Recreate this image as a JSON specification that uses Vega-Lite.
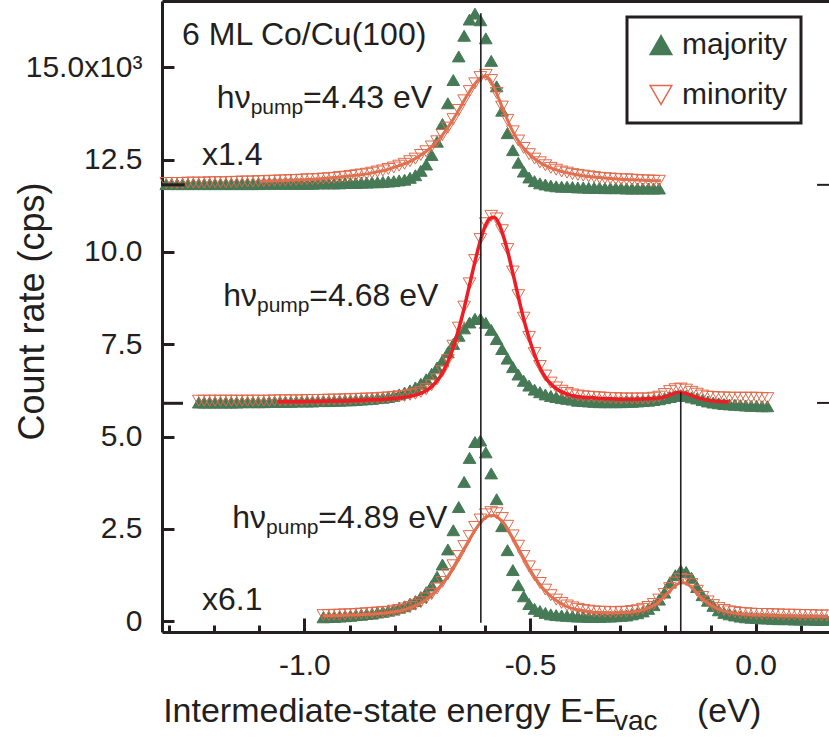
{
  "$schema": "https://vega.github.io/schema/vega-lite/v6.json",
  "width": 667,
  "height": 631,
  "autosize": "none",
  "padding": {"left": 162, "top": 1, "right": 0, "bottom": 106},
  "background": "white",
  "config": {
    "font": "Liberation Sans",
    "view": {"stroke": null},
    "axis": {
      "labelFont": "Liberation Sans", "titleFont": "Liberation Sans",
      "labelColor": "#231f20", "titleColor": "#231f20",
      "domainColor": "#231f20", "tickColor": "#231f20",
      "domainWidth": 3, "tickWidth": 3, "grid": false,
      "labelFontSize": 30, "titleFontWeight": "normal"
    },
    "legend": {"strokeWidth": 3}
  },
  "datasets": {
    "pts": [
      {"p":"t","s":"majority","e":-1.306,"y":11.84},{"p":"t","s":"majority","e":-1.294,"y":11.84},{"p":"t","s":"majority","e":-1.282,"y":11.84},{"p":"t","s":"majority","e":-1.270,"y":11.84},{"p":"t","s":"majority","e":-1.258,"y":11.84},{"p":"t","s":"majority","e":-1.246,"y":11.84},{"p":"t","s":"majority","e":-1.234,"y":11.84},{"p":"t","s":"majority","e":-1.222,"y":11.84},{"p":"t","s":"majority","e":-1.210,"y":11.84},{"p":"t","s":"majority","e":-1.198,"y":11.84},{"p":"t","s":"majority","e":-1.186,"y":11.84},{"p":"t","s":"majority","e":-1.174,"y":11.84},{"p":"t","s":"majority","e":-1.162,"y":11.84},{"p":"t","s":"majority","e":-1.150,"y":11.84},{"p":"t","s":"majority","e":-1.138,"y":11.84},{"p":"t","s":"majority","e":-1.126,"y":11.84},{"p":"t","s":"majority","e":-1.114,"y":11.84},{"p":"t","s":"majority","e":-1.102,"y":11.84},{"p":"t","s":"majority","e":-1.090,"y":11.85},{"p":"t","s":"majority","e":-1.078,"y":11.85},{"p":"t","s":"majority","e":-1.066,"y":11.85},{"p":"t","s":"majority","e":-1.054,"y":11.85},{"p":"t","s":"majority","e":-1.042,"y":11.85},{"p":"t","s":"majority","e":-1.030,"y":11.85},{"p":"t","s":"majority","e":-1.018,"y":11.85},{"p":"t","s":"majority","e":-1.006,"y":11.85},{"p":"t","s":"majority","e":-0.994,"y":11.85},{"p":"t","s":"majority","e":-0.982,"y":11.85},{"p":"t","s":"majority","e":-0.970,"y":11.86},{"p":"t","s":"majority","e":-0.958,"y":11.86},{"p":"t","s":"majority","e":-0.946,"y":11.86},{"p":"t","s":"majority","e":-0.934,"y":11.86},{"p":"t","s":"majority","e":-0.922,"y":11.86},{"p":"t","s":"majority","e":-0.910,"y":11.87},{"p":"t","s":"majority","e":-0.898,"y":11.87},{"p":"t","s":"majority","e":-0.886,"y":11.87},{"p":"t","s":"majority","e":-0.874,"y":11.88},{"p":"t","s":"majority","e":-0.862,"y":11.88},{"p":"t","s":"majority","e":-0.850,"y":11.89},{"p":"t","s":"majority","e":-0.838,"y":11.89},{"p":"t","s":"majority","e":-0.826,"y":11.90},{"p":"t","s":"majority","e":-0.814,"y":11.91},{"p":"t","s":"majority","e":-0.802,"y":11.92},{"p":"t","s":"majority","e":-0.790,"y":11.94},{"p":"t","s":"majority","e":-0.778,"y":11.96},{"p":"t","s":"majority","e":-0.766,"y":12.01},{"p":"t","s":"majority","e":-0.754,"y":12.08},{"p":"t","s":"majority","e":-0.742,"y":12.20},{"p":"t","s":"majority","e":-0.730,"y":12.37},{"p":"t","s":"majority","e":-0.718,"y":12.63},{"p":"t","s":"majority","e":-0.706,"y":12.99},{"p":"t","s":"majority","e":-0.694,"y":13.47},{"p":"t","s":"majority","e":-0.682,"y":14.03},{"p":"t","s":"majority","e":-0.670,"y":14.66},{"p":"t","s":"majority","e":-0.658,"y":15.30},{"p":"t","s":"majority","e":-0.646,"y":15.86},{"p":"t","s":"majority","e":-0.634,"y":16.30},{"p":"t","s":"majority","e":-0.622,"y":16.46},{"p":"t","s":"majority","e":-0.610,"y":16.28},{"p":"t","s":"majority","e":-0.598,"y":15.79},{"p":"t","s":"majority","e":-0.586,"y":15.18},{"p":"t","s":"majority","e":-0.574,"y":14.49},{"p":"t","s":"majority","e":-0.562,"y":13.83},{"p":"t","s":"majority","e":-0.550,"y":13.22},{"p":"t","s":"majority","e":-0.538,"y":12.76},{"p":"t","s":"majority","e":-0.526,"y":12.42},{"p":"t","s":"majority","e":-0.514,"y":12.18},{"p":"t","s":"majority","e":-0.502,"y":12.02},{"p":"t","s":"majority","e":-0.490,"y":11.92},{"p":"t","s":"majority","e":-0.478,"y":11.86},{"p":"t","s":"majority","e":-0.466,"y":11.83},{"p":"t","s":"majority","e":-0.454,"y":11.80},{"p":"t","s":"majority","e":-0.442,"y":11.78},{"p":"t","s":"majority","e":-0.430,"y":11.77},{"p":"t","s":"majority","e":-0.418,"y":11.77},{"p":"t","s":"majority","e":-0.406,"y":11.76},{"p":"t","s":"majority","e":-0.394,"y":11.75},{"p":"t","s":"majority","e":-0.382,"y":11.75},{"p":"t","s":"majority","e":-0.370,"y":11.74},{"p":"t","s":"majority","e":-0.358,"y":11.74},{"p":"t","s":"majority","e":-0.346,"y":11.74},{"p":"t","s":"majority","e":-0.334,"y":11.73},{"p":"t","s":"majority","e":-0.322,"y":11.73},{"p":"t","s":"majority","e":-0.310,"y":11.73},{"p":"t","s":"majority","e":-0.298,"y":11.73},{"p":"t","s":"majority","e":-0.286,"y":11.72},{"p":"t","s":"majority","e":-0.274,"y":11.72},{"p":"t","s":"majority","e":-0.262,"y":11.72},{"p":"t","s":"majority","e":-0.250,"y":11.72},{"p":"t","s":"majority","e":-0.238,"y":11.72},{"p":"t","s":"majority","e":-0.226,"y":11.72},{"p":"t","s":"majority","e":-0.214,"y":11.72},
      {"p":"m","s":"majority","e":-1.234,"y":5.92},{"p":"m","s":"majority","e":-1.222,"y":5.92},{"p":"m","s":"majority","e":-1.210,"y":5.92},{"p":"m","s":"majority","e":-1.198,"y":5.92},{"p":"m","s":"majority","e":-1.186,"y":5.92},{"p":"m","s":"majority","e":-1.174,"y":5.92},{"p":"m","s":"majority","e":-1.162,"y":5.92},{"p":"m","s":"majority","e":-1.150,"y":5.92},{"p":"m","s":"majority","e":-1.138,"y":5.93},{"p":"m","s":"majority","e":-1.126,"y":5.93},{"p":"m","s":"majority","e":-1.114,"y":5.93},{"p":"m","s":"majority","e":-1.102,"y":5.93},{"p":"m","s":"majority","e":-1.090,"y":5.93},{"p":"m","s":"majority","e":-1.078,"y":5.94},{"p":"m","s":"majority","e":-1.066,"y":5.94},{"p":"m","s":"majority","e":-1.054,"y":5.94},{"p":"m","s":"majority","e":-1.042,"y":5.94},{"p":"m","s":"majority","e":-1.030,"y":5.94},{"p":"m","s":"majority","e":-1.018,"y":5.95},{"p":"m","s":"majority","e":-1.006,"y":5.95},{"p":"m","s":"majority","e":-0.994,"y":5.95},{"p":"m","s":"majority","e":-0.982,"y":5.95},{"p":"m","s":"majority","e":-0.970,"y":5.96},{"p":"m","s":"majority","e":-0.958,"y":5.96},{"p":"m","s":"majority","e":-0.946,"y":5.96},{"p":"m","s":"majority","e":-0.934,"y":5.97},{"p":"m","s":"majority","e":-0.922,"y":5.97},{"p":"m","s":"majority","e":-0.910,"y":5.98},{"p":"m","s":"majority","e":-0.898,"y":5.98},{"p":"m","s":"majority","e":-0.886,"y":5.99},{"p":"m","s":"majority","e":-0.874,"y":6.00},{"p":"m","s":"majority","e":-0.862,"y":6.01},{"p":"m","s":"majority","e":-0.850,"y":6.02},{"p":"m","s":"majority","e":-0.838,"y":6.04},{"p":"m","s":"majority","e":-0.826,"y":6.05},{"p":"m","s":"majority","e":-0.814,"y":6.07},{"p":"m","s":"majority","e":-0.802,"y":6.10},{"p":"m","s":"majority","e":-0.790,"y":6.14},{"p":"m","s":"majority","e":-0.778,"y":6.19},{"p":"m","s":"majority","e":-0.766,"y":6.25},{"p":"m","s":"majority","e":-0.754,"y":6.33},{"p":"m","s":"majority","e":-0.742,"y":6.43},{"p":"m","s":"majority","e":-0.730,"y":6.55},{"p":"m","s":"majority","e":-0.718,"y":6.70},{"p":"m","s":"majority","e":-0.706,"y":6.87},{"p":"m","s":"majority","e":-0.694,"y":7.06},{"p":"m","s":"majority","e":-0.682,"y":7.28},{"p":"m","s":"majority","e":-0.670,"y":7.51},{"p":"m","s":"majority","e":-0.658,"y":7.73},{"p":"m","s":"majority","e":-0.646,"y":7.93},{"p":"m","s":"majority","e":-0.634,"y":8.09},{"p":"m","s":"majority","e":-0.622,"y":8.19},{"p":"m","s":"majority","e":-0.610,"y":8.19},{"p":"m","s":"majority","e":-0.598,"y":8.08},{"p":"m","s":"majority","e":-0.586,"y":7.89},{"p":"m","s":"majority","e":-0.574,"y":7.64},{"p":"m","s":"majority","e":-0.562,"y":7.37},{"p":"m","s":"majority","e":-0.550,"y":7.11},{"p":"m","s":"majority","e":-0.538,"y":6.88},{"p":"m","s":"majority","e":-0.526,"y":6.68},{"p":"m","s":"majority","e":-0.514,"y":6.51},{"p":"m","s":"majority","e":-0.502,"y":6.38},{"p":"m","s":"majority","e":-0.490,"y":6.27},{"p":"m","s":"majority","e":-0.478,"y":6.20},{"p":"m","s":"majority","e":-0.466,"y":6.14},{"p":"m","s":"majority","e":-0.454,"y":6.10},{"p":"m","s":"majority","e":-0.442,"y":6.07},{"p":"m","s":"majority","e":-0.430,"y":6.04},{"p":"m","s":"majority","e":-0.418,"y":6.02},{"p":"m","s":"majority","e":-0.406,"y":6.00},{"p":"m","s":"majority","e":-0.394,"y":5.97},{"p":"m","s":"majority","e":-0.382,"y":5.96},{"p":"m","s":"majority","e":-0.370,"y":5.95},{"p":"m","s":"majority","e":-0.358,"y":5.94},{"p":"m","s":"majority","e":-0.346,"y":5.93},{"p":"m","s":"majority","e":-0.334,"y":5.93},{"p":"m","s":"majority","e":-0.322,"y":5.93},{"p":"m","s":"majority","e":-0.310,"y":5.93},{"p":"m","s":"majority","e":-0.298,"y":5.93},{"p":"m","s":"majority","e":-0.286,"y":5.94},{"p":"m","s":"majority","e":-0.274,"y":5.94},{"p":"m","s":"majority","e":-0.262,"y":5.95},{"p":"m","s":"majority","e":-0.250,"y":5.96},{"p":"m","s":"majority","e":-0.238,"y":5.97},{"p":"m","s":"majority","e":-0.226,"y":5.99},{"p":"m","s":"majority","e":-0.214,"y":6.01},{"p":"m","s":"majority","e":-0.202,"y":6.04},{"p":"m","s":"majority","e":-0.190,"y":6.07},{"p":"m","s":"majority","e":-0.178,"y":6.10},{"p":"m","s":"majority","e":-0.166,"y":6.12},{"p":"m","s":"majority","e":-0.154,"y":6.10},{"p":"m","s":"majority","e":-0.142,"y":6.06},{"p":"m","s":"majority","e":-0.130,"y":6.03},{"p":"m","s":"majority","e":-0.118,"y":5.99},{"p":"m","s":"majority","e":-0.106,"y":5.95},{"p":"m","s":"majority","e":-0.094,"y":5.92},{"p":"m","s":"majority","e":-0.082,"y":5.90},{"p":"m","s":"majority","e":-0.070,"y":5.88},{"p":"m","s":"majority","e":-0.058,"y":5.87},{"p":"m","s":"majority","e":-0.046,"y":5.86},{"p":"m","s":"majority","e":-0.034,"y":5.85},{"p":"m","s":"majority","e":-0.022,"y":5.84},{"p":"m","s":"majority","e":-0.010,"y":5.83},{"p":"m","s":"majority","e":0.002,"y":5.83},{"p":"m","s":"majority","e":0.014,"y":5.82},{"p":"m","s":"majority","e":0.026,"y":5.82},
      {"p":"b","s":"majority","e":-0.958,"y":0.10},{"p":"b","s":"majority","e":-0.946,"y":0.11},{"p":"b","s":"majority","e":-0.934,"y":0.11},{"p":"b","s":"majority","e":-0.922,"y":0.12},{"p":"b","s":"majority","e":-0.910,"y":0.13},{"p":"b","s":"majority","e":-0.898,"y":0.14},{"p":"b","s":"majority","e":-0.886,"y":0.16},{"p":"b","s":"majority","e":-0.874,"y":0.17},{"p":"b","s":"majority","e":-0.862,"y":0.19},{"p":"b","s":"majority","e":-0.850,"y":0.20},{"p":"b","s":"majority","e":-0.838,"y":0.23},{"p":"b","s":"majority","e":-0.826,"y":0.25},{"p":"b","s":"majority","e":-0.814,"y":0.28},{"p":"b","s":"majority","e":-0.802,"y":0.31},{"p":"b","s":"majority","e":-0.790,"y":0.36},{"p":"b","s":"majority","e":-0.778,"y":0.40},{"p":"b","s":"majority","e":-0.766,"y":0.47},{"p":"b","s":"majority","e":-0.754,"y":0.54},{"p":"b","s":"majority","e":-0.742,"y":0.65},{"p":"b","s":"majority","e":-0.730,"y":0.78},{"p":"b","s":"majority","e":-0.718,"y":0.96},{"p":"b","s":"majority","e":-0.706,"y":1.20},{"p":"b","s":"majority","e":-0.694,"y":1.53},{"p":"b","s":"majority","e":-0.682,"y":1.94},{"p":"b","s":"majority","e":-0.670,"y":2.46},{"p":"b","s":"majority","e":-0.658,"y":3.09},{"p":"b","s":"majority","e":-0.646,"y":3.77},{"p":"b","s":"majority","e":-0.634,"y":4.42},{"p":"b","s":"majority","e":-0.622,"y":4.85},{"p":"b","s":"majority","e":-0.610,"y":4.89},{"p":"b","s":"majority","e":-0.598,"y":4.57},{"p":"b","s":"majority","e":-0.586,"y":4.00},{"p":"b","s":"majority","e":-0.574,"y":3.30},{"p":"b","s":"majority","e":-0.562,"y":2.57},{"p":"b","s":"majority","e":-0.550,"y":1.92},{"p":"b","s":"majority","e":-0.538,"y":1.38},{"p":"b","s":"majority","e":-0.526,"y":0.97},{"p":"b","s":"majority","e":-0.514,"y":0.67},{"p":"b","s":"majority","e":-0.502,"y":0.46},{"p":"b","s":"majority","e":-0.490,"y":0.33},{"p":"b","s":"majority","e":-0.478,"y":0.27},{"p":"b","s":"majority","e":-0.466,"y":0.22},{"p":"b","s":"majority","e":-0.454,"y":0.18},{"p":"b","s":"majority","e":-0.442,"y":0.16},{"p":"b","s":"majority","e":-0.430,"y":0.15},{"p":"b","s":"majority","e":-0.418,"y":0.14},{"p":"b","s":"majority","e":-0.406,"y":0.13},{"p":"b","s":"majority","e":-0.394,"y":0.12},{"p":"b","s":"majority","e":-0.382,"y":0.12},{"p":"b","s":"majority","e":-0.370,"y":0.11},{"p":"b","s":"majority","e":-0.358,"y":0.11},{"p":"b","s":"majority","e":-0.346,"y":0.11},{"p":"b","s":"majority","e":-0.334,"y":0.12},{"p":"b","s":"majority","e":-0.322,"y":0.12},{"p":"b","s":"majority","e":-0.310,"y":0.13},{"p":"b","s":"majority","e":-0.298,"y":0.14},{"p":"b","s":"majority","e":-0.286,"y":0.15},{"p":"b","s":"majority","e":-0.274,"y":0.18},{"p":"b","s":"majority","e":-0.262,"y":0.21},{"p":"b","s":"majority","e":-0.250,"y":0.26},{"p":"b","s":"majority","e":-0.238,"y":0.33},{"p":"b","s":"majority","e":-0.226,"y":0.43},{"p":"b","s":"majority","e":-0.214,"y":0.58},{"p":"b","s":"majority","e":-0.202,"y":0.77},{"p":"b","s":"majority","e":-0.190,"y":1.04},{"p":"b","s":"majority","e":-0.178,"y":1.24},{"p":"b","s":"majority","e":-0.166,"y":1.37},{"p":"b","s":"majority","e":-0.154,"y":1.33},{"p":"b","s":"majority","e":-0.142,"y":1.17},{"p":"b","s":"majority","e":-0.130,"y":0.92},{"p":"b","s":"majority","e":-0.118,"y":0.70},{"p":"b","s":"majority","e":-0.106,"y":0.55},{"p":"b","s":"majority","e":-0.094,"y":0.41},{"p":"b","s":"majority","e":-0.082,"y":0.29},{"p":"b","s":"majority","e":-0.070,"y":0.22},{"p":"b","s":"majority","e":-0.058,"y":0.18},{"p":"b","s":"majority","e":-0.046,"y":0.15},{"p":"b","s":"majority","e":-0.034,"y":0.12},{"p":"b","s":"majority","e":-0.022,"y":0.10},{"p":"b","s":"majority","e":-0.010,"y":0.09},{"p":"b","s":"majority","e":0.002,"y":0.08},{"p":"b","s":"majority","e":0.014,"y":0.07},{"p":"b","s":"majority","e":0.026,"y":0.07},{"p":"b","s":"majority","e":0.038,"y":0.06},{"p":"b","s":"majority","e":0.050,"y":0.05},{"p":"b","s":"majority","e":0.062,"y":0.05},{"p":"b","s":"majority","e":0.074,"y":0.05},{"p":"b","s":"majority","e":0.086,"y":0.04},{"p":"b","s":"majority","e":0.098,"y":0.04},{"p":"b","s":"majority","e":0.110,"y":0.04},{"p":"b","s":"majority","e":0.122,"y":0.04},{"p":"b","s":"majority","e":0.134,"y":0.03},{"p":"b","s":"majority","e":0.146,"y":0.03},{"p":"b","s":"majority","e":0.158,"y":0.03},
      {"p":"t","s":"minority","e":-1.306,"y":11.87},{"p":"t","s":"minority","e":-1.294,"y":11.87},{"p":"t","s":"minority","e":-1.282,"y":11.87},{"p":"t","s":"minority","e":-1.270,"y":11.87},{"p":"t","s":"minority","e":-1.258,"y":11.88},{"p":"t","s":"minority","e":-1.246,"y":11.88},{"p":"t","s":"minority","e":-1.234,"y":11.88},{"p":"t","s":"minority","e":-1.222,"y":11.88},{"p":"t","s":"minority","e":-1.210,"y":11.89},{"p":"t","s":"minority","e":-1.198,"y":11.89},{"p":"t","s":"minority","e":-1.186,"y":11.89},{"p":"t","s":"minority","e":-1.174,"y":11.89},{"p":"t","s":"minority","e":-1.162,"y":11.90},{"p":"t","s":"minority","e":-1.150,"y":11.90},{"p":"t","s":"minority","e":-1.138,"y":11.91},{"p":"t","s":"minority","e":-1.126,"y":11.91},{"p":"t","s":"minority","e":-1.114,"y":11.91},{"p":"t","s":"minority","e":-1.102,"y":11.92},{"p":"t","s":"minority","e":-1.090,"y":11.92},{"p":"t","s":"minority","e":-1.078,"y":11.93},{"p":"t","s":"minority","e":-1.066,"y":11.93},{"p":"t","s":"minority","e":-1.054,"y":11.94},{"p":"t","s":"minority","e":-1.042,"y":11.94},{"p":"t","s":"minority","e":-1.030,"y":11.95},{"p":"t","s":"minority","e":-1.018,"y":11.95},{"p":"t","s":"minority","e":-1.006,"y":11.96},{"p":"t","s":"minority","e":-0.994,"y":11.97},{"p":"t","s":"minority","e":-0.982,"y":11.97},{"p":"t","s":"minority","e":-0.970,"y":11.98},{"p":"t","s":"minority","e":-0.958,"y":11.99},{"p":"t","s":"minority","e":-0.946,"y":12.00},{"p":"t","s":"minority","e":-0.934,"y":12.01},{"p":"t","s":"minority","e":-0.922,"y":12.03},{"p":"t","s":"minority","e":-0.910,"y":12.04},{"p":"t","s":"minority","e":-0.898,"y":12.06},{"p":"t","s":"minority","e":-0.886,"y":12.08},{"p":"t","s":"minority","e":-0.874,"y":12.10},{"p":"t","s":"minority","e":-0.862,"y":12.12},{"p":"t","s":"minority","e":-0.850,"y":12.15},{"p":"t","s":"minority","e":-0.838,"y":12.18},{"p":"t","s":"minority","e":-0.826,"y":12.21},{"p":"t","s":"minority","e":-0.814,"y":12.25},{"p":"t","s":"minority","e":-0.802,"y":12.29},{"p":"t","s":"minority","e":-0.790,"y":12.34},{"p":"t","s":"minority","e":-0.778,"y":12.39},{"p":"t","s":"minority","e":-0.766,"y":12.46},{"p":"t","s":"minority","e":-0.754,"y":12.53},{"p":"t","s":"minority","e":-0.742,"y":12.63},{"p":"t","s":"minority","e":-0.730,"y":12.73},{"p":"t","s":"minority","e":-0.718,"y":12.86},{"p":"t","s":"minority","e":-0.706,"y":13.00},{"p":"t","s":"minority","e":-0.694,"y":13.17},{"p":"t","s":"minority","e":-0.682,"y":13.37},{"p":"t","s":"minority","e":-0.670,"y":13.60},{"p":"t","s":"minority","e":-0.658,"y":13.85},{"p":"t","s":"minority","e":-0.646,"y":14.11},{"p":"t","s":"minority","e":-0.634,"y":14.36},{"p":"t","s":"minority","e":-0.622,"y":14.57},{"p":"t","s":"minority","e":-0.610,"y":14.74},{"p":"t","s":"minority","e":-0.598,"y":14.80},{"p":"t","s":"minority","e":-0.586,"y":14.66},{"p":"t","s":"minority","e":-0.574,"y":14.31},{"p":"t","s":"minority","e":-0.562,"y":13.94},{"p":"t","s":"minority","e":-0.550,"y":13.58},{"p":"t","s":"minority","e":-0.538,"y":13.27},{"p":"t","s":"minority","e":-0.526,"y":13.02},{"p":"t","s":"minority","e":-0.514,"y":12.82},{"p":"t","s":"minority","e":-0.502,"y":12.65},{"p":"t","s":"minority","e":-0.490,"y":12.53},{"p":"t","s":"minority","e":-0.478,"y":12.43},{"p":"t","s":"minority","e":-0.466,"y":12.35},{"p":"t","s":"minority","e":-0.454,"y":12.28},{"p":"t","s":"minority","e":-0.442,"y":12.23},{"p":"t","s":"minority","e":-0.430,"y":12.18},{"p":"t","s":"minority","e":-0.418,"y":12.15},{"p":"t","s":"minority","e":-0.406,"y":12.11},{"p":"t","s":"minority","e":-0.394,"y":12.09},{"p":"t","s":"minority","e":-0.382,"y":12.07},{"p":"t","s":"minority","e":-0.370,"y":12.05},{"p":"t","s":"minority","e":-0.358,"y":12.03},{"p":"t","s":"minority","e":-0.346,"y":12.01},{"p":"t","s":"minority","e":-0.334,"y":12.00},{"p":"t","s":"minority","e":-0.322,"y":11.99},{"p":"t","s":"minority","e":-0.310,"y":11.98},{"p":"t","s":"minority","e":-0.298,"y":11.97},{"p":"t","s":"minority","e":-0.286,"y":11.97},{"p":"t","s":"minority","e":-0.274,"y":11.96},{"p":"t","s":"minority","e":-0.262,"y":11.95},{"p":"t","s":"minority","e":-0.250,"y":11.94},{"p":"t","s":"minority","e":-0.238,"y":11.94},{"p":"t","s":"minority","e":-0.226,"y":11.93},{"p":"t","s":"minority","e":-0.214,"y":11.93},
      {"p":"m","s":"minority","e":-1.234,"y":5.97},{"p":"m","s":"minority","e":-1.222,"y":5.97},{"p":"m","s":"minority","e":-1.210,"y":5.97},{"p":"m","s":"minority","e":-1.198,"y":5.97},{"p":"m","s":"minority","e":-1.186,"y":5.97},{"p":"m","s":"minority","e":-1.174,"y":5.97},{"p":"m","s":"minority","e":-1.162,"y":5.97},{"p":"m","s":"minority","e":-1.150,"y":5.97},{"p":"m","s":"minority","e":-1.138,"y":5.97},{"p":"m","s":"minority","e":-1.126,"y":5.97},{"p":"m","s":"minority","e":-1.114,"y":5.97},{"p":"m","s":"minority","e":-1.102,"y":5.97},{"p":"m","s":"minority","e":-1.090,"y":5.97},{"p":"m","s":"minority","e":-1.078,"y":5.97},{"p":"m","s":"minority","e":-1.066,"y":5.98},{"p":"m","s":"minority","e":-1.054,"y":5.98},{"p":"m","s":"minority","e":-1.042,"y":5.98},{"p":"m","s":"minority","e":-1.030,"y":5.98},{"p":"m","s":"minority","e":-1.018,"y":5.98},{"p":"m","s":"minority","e":-1.006,"y":5.98},{"p":"m","s":"minority","e":-0.994,"y":5.99},{"p":"m","s":"minority","e":-0.982,"y":5.99},{"p":"m","s":"minority","e":-0.970,"y":5.99},{"p":"m","s":"minority","e":-0.958,"y":5.99},{"p":"m","s":"minority","e":-0.946,"y":6.00},{"p":"m","s":"minority","e":-0.934,"y":6.00},{"p":"m","s":"minority","e":-0.922,"y":6.00},{"p":"m","s":"minority","e":-0.910,"y":6.01},{"p":"m","s":"minority","e":-0.898,"y":6.01},{"p":"m","s":"minority","e":-0.886,"y":6.02},{"p":"m","s":"minority","e":-0.874,"y":6.02},{"p":"m","s":"minority","e":-0.862,"y":6.03},{"p":"m","s":"minority","e":-0.850,"y":6.03},{"p":"m","s":"minority","e":-0.838,"y":6.04},{"p":"m","s":"minority","e":-0.826,"y":6.05},{"p":"m","s":"minority","e":-0.814,"y":6.06},{"p":"m","s":"minority","e":-0.802,"y":6.07},{"p":"m","s":"minority","e":-0.790,"y":6.09},{"p":"m","s":"minority","e":-0.778,"y":6.10},{"p":"m","s":"minority","e":-0.766,"y":6.13},{"p":"m","s":"minority","e":-0.754,"y":6.16},{"p":"m","s":"minority","e":-0.742,"y":6.21},{"p":"m","s":"minority","e":-0.730,"y":6.28},{"p":"m","s":"minority","e":-0.718,"y":6.39},{"p":"m","s":"minority","e":-0.706,"y":6.55},{"p":"m","s":"minority","e":-0.694,"y":6.77},{"p":"m","s":"minority","e":-0.682,"y":7.07},{"p":"m","s":"minority","e":-0.670,"y":7.46},{"p":"m","s":"minority","e":-0.658,"y":7.95},{"p":"m","s":"minority","e":-0.646,"y":8.52},{"p":"m","s":"minority","e":-0.634,"y":9.15},{"p":"m","s":"minority","e":-0.622,"y":9.78},{"p":"m","s":"minority","e":-0.610,"y":10.35},{"p":"m","s":"minority","e":-0.598,"y":10.78},{"p":"m","s":"minority","e":-0.586,"y":10.98},{"p":"m","s":"minority","e":-0.574,"y":10.91},{"p":"m","s":"minority","e":-0.562,"y":10.59},{"p":"m","s":"minority","e":-0.550,"y":10.08},{"p":"m","s":"minority","e":-0.538,"y":9.47},{"p":"m","s":"minority","e":-0.526,"y":8.83},{"p":"m","s":"minority","e":-0.514,"y":8.22},{"p":"m","s":"minority","e":-0.502,"y":7.70},{"p":"m","s":"minority","e":-0.490,"y":7.26},{"p":"m","s":"minority","e":-0.478,"y":6.91},{"p":"m","s":"minority","e":-0.466,"y":6.65},{"p":"m","s":"minority","e":-0.454,"y":6.46},{"p":"m","s":"minority","e":-0.442,"y":6.33},{"p":"m","s":"minority","e":-0.430,"y":6.24},{"p":"m","s":"minority","e":-0.418,"y":6.18},{"p":"m","s":"minority","e":-0.406,"y":6.14},{"p":"m","s":"minority","e":-0.394,"y":6.11},{"p":"m","s":"minority","e":-0.382,"y":6.09},{"p":"m","s":"minority","e":-0.370,"y":6.08},{"p":"m","s":"minority","e":-0.358,"y":6.07},{"p":"m","s":"minority","e":-0.346,"y":6.06},{"p":"m","s":"minority","e":-0.334,"y":6.05},{"p":"m","s":"minority","e":-0.322,"y":6.04},{"p":"m","s":"minority","e":-0.310,"y":6.04},{"p":"m","s":"minority","e":-0.298,"y":6.03},{"p":"m","s":"minority","e":-0.286,"y":6.03},{"p":"m","s":"minority","e":-0.274,"y":6.03},{"p":"m","s":"minority","e":-0.262,"y":6.03},{"p":"m","s":"minority","e":-0.250,"y":6.03},{"p":"m","s":"minority","e":-0.238,"y":6.03},{"p":"m","s":"minority","e":-0.226,"y":6.05},{"p":"m","s":"minority","e":-0.214,"y":6.08},{"p":"m","s":"minority","e":-0.202,"y":6.15},{"p":"m","s":"minority","e":-0.190,"y":6.23},{"p":"m","s":"minority","e":-0.178,"y":6.28},{"p":"m","s":"minority","e":-0.166,"y":6.30},{"p":"m","s":"minority","e":-0.154,"y":6.27},{"p":"m","s":"minority","e":-0.142,"y":6.21},{"p":"m","s":"minority","e":-0.130,"y":6.16},{"p":"m","s":"minority","e":-0.118,"y":6.11},{"p":"m","s":"minority","e":-0.106,"y":6.08},{"p":"m","s":"minority","e":-0.094,"y":6.07},{"p":"m","s":"minority","e":-0.082,"y":6.06},{"p":"m","s":"minority","e":-0.070,"y":6.06},{"p":"m","s":"minority","e":-0.058,"y":6.05},{"p":"m","s":"minority","e":-0.046,"y":6.05},{"p":"m","s":"minority","e":-0.034,"y":6.05},{"p":"m","s":"minority","e":-0.022,"y":6.05},{"p":"m","s":"minority","e":-0.010,"y":6.05},{"p":"m","s":"minority","e":0.002,"y":6.05},{"p":"m","s":"minority","e":0.014,"y":6.04},{"p":"m","s":"minority","e":0.026,"y":6.04},
      {"p":"b","s":"minority","e":-0.958,"y":0.16},{"p":"b","s":"minority","e":-0.946,"y":0.16},{"p":"b","s":"minority","e":-0.934,"y":0.17},{"p":"b","s":"minority","e":-0.922,"y":0.17},{"p":"b","s":"minority","e":-0.910,"y":0.18},{"p":"b","s":"minority","e":-0.898,"y":0.18},{"p":"b","s":"minority","e":-0.886,"y":0.19},{"p":"b","s":"minority","e":-0.874,"y":0.20},{"p":"b","s":"minority","e":-0.862,"y":0.21},{"p":"b","s":"minority","e":-0.850,"y":0.22},{"p":"b","s":"minority","e":-0.838,"y":0.23},{"p":"b","s":"minority","e":-0.826,"y":0.24},{"p":"b","s":"minority","e":-0.814,"y":0.25},{"p":"b","s":"minority","e":-0.802,"y":0.28},{"p":"b","s":"minority","e":-0.790,"y":0.30},{"p":"b","s":"minority","e":-0.778,"y":0.34},{"p":"b","s":"minority","e":-0.766,"y":0.38},{"p":"b","s":"minority","e":-0.754,"y":0.44},{"p":"b","s":"minority","e":-0.742,"y":0.51},{"p":"b","s":"minority","e":-0.730,"y":0.61},{"p":"b","s":"minority","e":-0.718,"y":0.73},{"p":"b","s":"minority","e":-0.706,"y":0.88},{"p":"b","s":"minority","e":-0.694,"y":1.06},{"p":"b","s":"minority","e":-0.682,"y":1.27},{"p":"b","s":"minority","e":-0.670,"y":1.51},{"p":"b","s":"minority","e":-0.658,"y":1.76},{"p":"b","s":"minority","e":-0.646,"y":2.03},{"p":"b","s":"minority","e":-0.634,"y":2.30},{"p":"b","s":"minority","e":-0.622,"y":2.55},{"p":"b","s":"minority","e":-0.610,"y":2.75},{"p":"b","s":"minority","e":-0.598,"y":2.89},{"p":"b","s":"minority","e":-0.586,"y":2.95},{"p":"b","s":"minority","e":-0.574,"y":2.92},{"p":"b","s":"minority","e":-0.562,"y":2.79},{"p":"b","s":"minority","e":-0.550,"y":2.58},{"p":"b","s":"minority","e":-0.538,"y":2.32},{"p":"b","s":"minority","e":-0.526,"y":2.04},{"p":"b","s":"minority","e":-0.514,"y":1.76},{"p":"b","s":"minority","e":-0.502,"y":1.48},{"p":"b","s":"minority","e":-0.490,"y":1.24},{"p":"b","s":"minority","e":-0.478,"y":1.03},{"p":"b","s":"minority","e":-0.466,"y":0.85},{"p":"b","s":"minority","e":-0.454,"y":0.70},{"p":"b","s":"minority","e":-0.442,"y":0.58},{"p":"b","s":"minority","e":-0.430,"y":0.49},{"p":"b","s":"minority","e":-0.418,"y":0.42},{"p":"b","s":"minority","e":-0.406,"y":0.37},{"p":"b","s":"minority","e":-0.394,"y":0.33},{"p":"b","s":"minority","e":-0.382,"y":0.30},{"p":"b","s":"minority","e":-0.370,"y":0.28},{"p":"b","s":"minority","e":-0.358,"y":0.26},{"p":"b","s":"minority","e":-0.346,"y":0.25},{"p":"b","s":"minority","e":-0.334,"y":0.25},{"p":"b","s":"minority","e":-0.322,"y":0.24},{"p":"b","s":"minority","e":-0.310,"y":0.24},{"p":"b","s":"minority","e":-0.298,"y":0.25},{"p":"b","s":"minority","e":-0.286,"y":0.25},{"p":"b","s":"minority","e":-0.274,"y":0.27},{"p":"b","s":"minority","e":-0.262,"y":0.29},{"p":"b","s":"minority","e":-0.250,"y":0.33},{"p":"b","s":"minority","e":-0.238,"y":0.38},{"p":"b","s":"minority","e":-0.226,"y":0.46},{"p":"b","s":"minority","e":-0.214,"y":0.58},{"p":"b","s":"minority","e":-0.202,"y":0.73},{"p":"b","s":"minority","e":-0.190,"y":0.89},{"p":"b","s":"minority","e":-0.178,"y":1.04},{"p":"b","s":"minority","e":-0.166,"y":1.14},{"p":"b","s":"minority","e":-0.154,"y":1.11},{"p":"b","s":"minority","e":-0.142,"y":1.00},{"p":"b","s":"minority","e":-0.130,"y":0.82},{"p":"b","s":"minority","e":-0.118,"y":0.65},{"p":"b","s":"minority","e":-0.106,"y":0.53},{"p":"b","s":"minority","e":-0.094,"y":0.43},{"p":"b","s":"minority","e":-0.082,"y":0.35},{"p":"b","s":"minority","e":-0.070,"y":0.30},{"p":"b","s":"minority","e":-0.058,"y":0.26},{"p":"b","s":"minority","e":-0.046,"y":0.24},{"p":"b","s":"minority","e":-0.034,"y":0.22},{"p":"b","s":"minority","e":-0.022,"y":0.21},{"p":"b","s":"minority","e":-0.010,"y":0.20},{"p":"b","s":"minority","e":0.002,"y":0.19},{"p":"b","s":"minority","e":0.014,"y":0.19},{"p":"b","s":"minority","e":0.026,"y":0.19},{"p":"b","s":"minority","e":0.038,"y":0.18},{"p":"b","s":"minority","e":0.050,"y":0.18},{"p":"b","s":"minority","e":0.062,"y":0.17},{"p":"b","s":"minority","e":0.074,"y":0.17},{"p":"b","s":"minority","e":0.086,"y":0.17},{"p":"b","s":"minority","e":0.098,"y":0.16},{"p":"b","s":"minority","e":0.110,"y":0.16},{"p":"b","s":"minority","e":0.122,"y":0.16},{"p":"b","s":"minority","e":0.134,"y":0.15},{"p":"b","s":"minority","e":0.146,"y":0.15},{"p":"b","s":"minority","e":0.158,"y":0.15}
    ],
    "fits": [
      {"p":"t","e":-1.10,"y":11.92},{"p":"t","e":-1.06,"y":11.93},{"p":"t","e":-1.02,"y":11.95},{"p":"t","e":-0.98,"y":11.97},{"p":"t","e":-0.94,"y":12.01},{"p":"t","e":-0.90,"y":12.06},{"p":"t","e":-0.87,"y":12.10},{"p":"t","e":-0.84,"y":12.17},{"p":"t","e":-0.82,"y":12.22},{"p":"t","e":-0.80,"y":12.30},{"p":"t","e":-0.78,"y":12.38},{"p":"t","e":-0.76,"y":12.49},{"p":"t","e":-0.74,"y":12.64},{"p":"t","e":-0.72,"y":12.83},{"p":"t","e":-0.70,"y":13.08},{"p":"t","e":-0.68,"y":13.41},{"p":"t","e":-0.66,"y":13.80},{"p":"t","e":-0.64,"y":14.23},{"p":"t","e":-0.62,"y":14.59},{"p":"t","e":-0.61,"y":14.72},{"p":"t","e":-0.60,"y":14.76},{"p":"t","e":-0.59,"y":14.69},{"p":"t","e":-0.58,"y":14.47},{"p":"t","e":-0.56,"y":13.87},{"p":"t","e":-0.54,"y":13.31},{"p":"t","e":-0.52,"y":12.90},{"p":"t","e":-0.50,"y":12.63},{"p":"t","e":-0.48,"y":12.44},{"p":"t","e":-0.46,"y":12.31},{"p":"t","e":-0.44,"y":12.22},{"p":"t","e":-0.42,"y":12.15},{"p":"t","e":-0.40,"y":12.10},{"p":"t","e":-0.38,"y":12.06},{"p":"t","e":-0.36,"y":12.03},{"p":"t","e":-0.34,"y":12.01},{"p":"t","e":-0.32,"y":11.99},{"p":"t","e":-0.30,"y":11.97},{"p":"t","e":-0.28,"y":11.96},{"p":"t","e":-0.26,"y":11.95},{"p":"t","e":-0.24,"y":11.94},{"p":"t","e":-0.22,"y":11.93},{"p":"t","e":-0.21,"y":11.93},
      {"p":"m","e":-1.06,"y":5.94},{"p":"m","e":-1.02,"y":5.94},{"p":"m","e":-0.98,"y":5.95},{"p":"m","e":-0.94,"y":5.96},{"p":"m","e":-0.90,"y":5.97},{"p":"m","e":-0.86,"y":5.99},{"p":"m","e":-0.82,"y":6.01},{"p":"m","e":-0.80,"y":6.03},{"p":"m","e":-0.78,"y":6.06},{"p":"m","e":-0.76,"y":6.10},{"p":"m","e":-0.74,"y":6.18},{"p":"m","e":-0.72,"y":6.33},{"p":"m","e":-0.70,"y":6.61},{"p":"m","e":-0.69,"y":6.82},{"p":"m","e":-0.68,"y":7.09},{"p":"m","e":-0.67,"y":7.42},{"p":"m","e":-0.66,"y":7.83},{"p":"m","e":-0.65,"y":8.28},{"p":"m","e":-0.64,"y":8.79},{"p":"m","e":-0.63,"y":9.32},{"p":"m","e":-0.62,"y":9.84},{"p":"m","e":-0.61,"y":10.31},{"p":"m","e":-0.60,"y":10.68},{"p":"m","e":-0.59,"y":10.90},{"p":"m","e":-0.58,"y":10.94},{"p":"m","e":-0.57,"y":10.80},{"p":"m","e":-0.56,"y":10.47},{"p":"m","e":-0.55,"y":10.04},{"p":"m","e":-0.54,"y":9.53},{"p":"m","e":-0.53,"y":9.00},{"p":"m","e":-0.52,"y":8.48},{"p":"m","e":-0.51,"y":8.00},{"p":"m","e":-0.50,"y":7.58},{"p":"m","e":-0.49,"y":7.22},{"p":"m","e":-0.48,"y":6.92},{"p":"m","e":-0.47,"y":6.68},{"p":"m","e":-0.46,"y":6.51},{"p":"m","e":-0.44,"y":6.28},{"p":"m","e":-0.42,"y":6.16},{"p":"m","e":-0.40,"y":6.09},{"p":"m","e":-0.38,"y":6.06},{"p":"m","e":-0.36,"y":6.05},{"p":"m","e":-0.34,"y":6.03},{"p":"m","e":-0.32,"y":6.02},{"p":"m","e":-0.30,"y":6.01},{"p":"m","e":-0.28,"y":6.01},{"p":"m","e":-0.26,"y":6.01},{"p":"m","e":-0.24,"y":6.02},{"p":"m","e":-0.22,"y":6.04},{"p":"m","e":-0.20,"y":6.08},{"p":"m","e":-0.19,"y":6.13},{"p":"m","e":-0.18,"y":6.17},{"p":"m","e":-0.17,"y":6.20},{"p":"m","e":-0.16,"y":6.18},{"p":"m","e":-0.15,"y":6.15},{"p":"m","e":-0.14,"y":6.10},{"p":"m","e":-0.12,"y":6.02},{"p":"m","e":-0.10,"y":5.97},{"p":"m","e":-0.08,"y":5.95},{"p":"m","e":-0.06,"y":5.94},
      {"p":"b","e":-0.96,"y":0.14},{"p":"b","e":-0.94,"y":0.14},{"p":"b","e":-0.92,"y":0.15},{"p":"b","e":-0.90,"y":0.16},{"p":"b","e":-0.88,"y":0.17},{"p":"b","e":-0.86,"y":0.18},{"p":"b","e":-0.84,"y":0.20},{"p":"b","e":-0.82,"y":0.22},{"p":"b","e":-0.80,"y":0.25},{"p":"b","e":-0.78,"y":0.30},{"p":"b","e":-0.76,"y":0.38},{"p":"b","e":-0.74,"y":0.50},{"p":"b","e":-0.72,"y":0.68},{"p":"b","e":-0.70,"y":0.93},{"p":"b","e":-0.68,"y":1.25},{"p":"b","e":-0.66,"y":1.67},{"p":"b","e":-0.64,"y":2.09},{"p":"b","e":-0.62,"y":2.50},{"p":"b","e":-0.60,"y":2.79},{"p":"b","e":-0.59,"y":2.85},{"p":"b","e":-0.58,"y":2.86},{"p":"b","e":-0.57,"y":2.79},{"p":"b","e":-0.56,"y":2.68},{"p":"b","e":-0.54,"y":2.29},{"p":"b","e":-0.52,"y":1.84},{"p":"b","e":-0.50,"y":1.39},{"p":"b","e":-0.48,"y":1.02},{"p":"b","e":-0.46,"y":0.74},{"p":"b","e":-0.44,"y":0.54},{"p":"b","e":-0.42,"y":0.40},{"p":"b","e":-0.40,"y":0.32},{"p":"b","e":-0.38,"y":0.28},{"p":"b","e":-0.36,"y":0.24},{"p":"b","e":-0.34,"y":0.23},{"p":"b","e":-0.32,"y":0.22},{"p":"b","e":-0.30,"y":0.23},{"p":"b","e":-0.28,"y":0.24},{"p":"b","e":-0.26,"y":0.27},{"p":"b","e":-0.24,"y":0.34},{"p":"b","e":-0.22,"y":0.47},{"p":"b","e":-0.20,"y":0.69},{"p":"b","e":-0.18,"y":0.94},{"p":"b","e":-0.17,"y":1.02},{"p":"b","e":-0.16,"y":1.04},{"p":"b","e":-0.15,"y":0.99},{"p":"b","e":-0.14,"y":0.89},{"p":"b","e":-0.12,"y":0.62},{"p":"b","e":-0.10,"y":0.44},{"p":"b","e":-0.08,"y":0.31},{"p":"b","e":-0.06,"y":0.24},{"p":"b","e":-0.04,"y":0.20},{"p":"b","e":-0.02,"y":0.18},{"p":"b","e":0.00,"y":0.16},{"p":"b","e":0.02,"y":0.16},{"p":"b","e":0.04,"y":0.15},{"p":"b","e":0.06,"y":0.14},{"p":"b","e":0.08,"y":0.14},{"p":"b","e":0.10,"y":0.13},{"p":"b","e":0.12,"y":0.13},{"p":"b","e":0.14,"y":0.13},{"p":"b","e":0.16,"y":0.12}
    ],
    "refs": [
      {"e": -0.609, "y": -0.05, "y2": 16.47},
      {"e": -0.166, "y": -0.298, "y2": 6.2}
    ],
    "offsets": [
      {"side": "left", "e": -1.3155, "e2": -1.265, "y": 11.82},
      {"side": "left", "e": -1.3155, "e2": -1.269, "y": 5.9},
      {"side": "right", "e": 0.136, "e2": 0.1625, "y": 11.82},
      {"side": "right", "e": 0.136, "e2": 0.1625, "y": 5.91}
    ],
    "notes": [
      {"t": "6 ML Co/Cu(100)", "e": -1.271, "y": 15.61, "r": "main"},
      {"t": "hν", "e": -1.194, "y": 13.90, "r": "main"},
      {"t": "pump", "e": -1.119, "y": 13.74, "r": "sub"},
      {"t": "=4.43 eV", "e": -1.003, "y": 13.90, "r": "main"},
      {"t": "x1.4", "e": -1.227, "y": 12.36, "r": "main"},
      {"t": "hν", "e": -1.180, "y": 8.54, "r": "main"},
      {"t": "pump", "e": -1.105, "y": 8.38, "r": "sub"},
      {"t": "=4.68 eV", "e": -0.989, "y": 8.54, "r": "main"},
      {"t": "hν", "e": -1.160, "y": 2.52, "r": "main"},
      {"t": "pump", "e": -1.085, "y": 2.36, "r": "sub"},
      {"t": "=4.89 eV", "e": -0.969, "y": 2.52, "r": "main"},
      {"t": "x6.1", "e": -1.227, "y": 0.30, "r": "main"},
      {"t": "Intermediate-state energy E-E", "e": -1.313, "y": -2.74, "r": "title"},
      {"t": "vac", "e": -0.3140, "y": -2.95, "r": "titlesub"},
      {"t": "(eV)", "e": -0.1300, "y": -2.74, "r": "title"}
    ]
  },
  "encoding": {
    "x": {"field": "e", "type": "quantitative", "scale": {"domain": [-1.3155, 0.1625], "nice": false, "zero": false}, "axis": null},
    "y": {
      "field": "y", "type": "quantitative",
      "scale": {"domain": [-0.298, 16.802], "nice": false, "zero": false},
      "axis": {
        "orient": "left",
        "values": [0, 2.5, 5, 7.5, 10, 12.5, 15],
        "labelExpr": "datum.value == 15 ? '15.0x10³' : datum.value == 0 ? '0' : format(datum.value, '.1f')",
        "tickSize": -12,
        "labelPadding": 32,
        "labelOverlap": false,
        "title": "Count rate (cps)",
        "titleFontSize": 36,
        "titleAngle": -90,
        "titleX": -130,
        "titleY": 310,
        "titleAlign": "center",
        "titleBaseline": "middle"
      }
    }
  },
  "resolve": {"axis": {"x": "independent"}},
  "layer": [
    {
      "data": {"name": "pts"},
      "mark": {"type": "point", "size": 160, "strokeWidth": 1, "opacity": 1},
      "encoding": {
        "x": {
          "field": "e", "type": "quantitative",
          "scale": {"domain": [-1.3155, 0.1625], "nice": false, "zero": false},
          "axis": {
            "orient": "bottom",
            "values": [-1.3, -1.2, -1.1, -1.0, -0.9, -0.8, -0.7, -0.6, -0.5, -0.4, -0.3, -0.2, -0.1, 0, 0.1],
            "labelExpr": "abs(datum.value+1)<0.01 ? '-1.0' : abs(datum.value+0.5)<0.01 ? '-0.5' : abs(datum.value)<0.01 ? '0.0' : ''",
            "tickSize": {"condition": {"test": "abs(datum.value*2-round(datum.value*2))<0.01", "value": -14}, "value": -7},
            "labelPadding": 32,
            "labelFlush": false,
            "labelOverlap": false,
            "title": null
          }
        },
        "shape": {
          "field": "s", "type": "nominal",
          "scale": {"domain": ["majority", "minority"], "range": ["triangle-up", "triangle-down"]},
          "legend": {"orient": "none", "legendX": 465, "legendY": 16, "title": null, "padding": 13, "strokeColor": "#231f20", "fillColor": "white", "symbolSize": 470, "symbolStrokeWidth": 1.5, "symbolOffset": 6, "labelFontSize": 30, "labelFont": "Liberation Sans", "labelColor": "#231f20", "rowPadding": 20, "labelOffset": 6}
        },
        "fill": {
          "field": "s", "type": "nominal",
          "scale": {"domain": ["majority", "minority"], "range": ["#467a56", "transparent"]},
          "legend": {"orient": "none", "legendX": 465, "legendY": 16, "title": null, "padding": 13, "strokeColor": "#231f20", "fillColor": "white", "symbolSize": 470, "symbolStrokeWidth": 1.5, "symbolOffset": 6, "labelFontSize": 30, "labelFont": "Liberation Sans", "labelColor": "#231f20", "rowPadding": 20, "labelOffset": 6}
        },
        "stroke": {
          "field": "s", "type": "nominal",
          "scale": {"domain": ["majority", "minority"], "range": ["#467a56", "#e0694a"]},
          "legend": {"orient": "none", "legendX": 465, "legendY": 16, "title": null, "padding": 13, "strokeColor": "#231f20", "fillColor": "white", "symbolSize": 470, "symbolStrokeWidth": 1.5, "symbolOffset": 6, "labelFontSize": 30, "labelFont": "Liberation Sans", "labelColor": "#231f20", "rowPadding": 20, "labelOffset": 6}
        }
      }
    },
    {
      "data": {"name": "fits"},
      "transform": [{"filter": "datum.p != 'm'"}],
      "mark": {"type": "line", "color": "#e0704f", "strokeWidth": 3, "interpolate": "monotone"},
      "encoding": {"detail": {"field": "p", "type": "nominal"}}
    },
    {
      "data": {"name": "fits"},
      "transform": [{"filter": "datum.p == 'm'"}],
      "mark": {"type": "line", "color": "#ee1c25", "strokeWidth": 3.5, "interpolate": "monotone"},
      "encoding": {}
    },
    {
      "data": {"name": "refs"},
      "mark": {"type": "rule", "color": "#231f20", "strokeWidth": 1.6},
      "encoding": {
        "x": {
          "field": "e", "type": "quantitative",
          "scale": {"domain": [-1.3155, 0.1625], "nice": false, "zero": false},
          "axis": {"orient": "top", "labels": false, "ticks": false, "title": null, "domainWidth": 3}
        },
        "y2": {"field": "y2"}
      }
    },
    {
      "data": {"name": "offsets"},
      "transform": [{"filter": "datum.side == 'left'"}],
      "mark": {"type": "rule", "color": "#231f20", "strokeWidth": 3},
      "encoding": {"x2": {"field": "e2"}}
    },
    {
      "data": {"name": "offsets"},
      "transform": [{"filter": "datum.side == 'right'"}],
      "mark": {"type": "rule", "color": "#231f20", "strokeWidth": 2},
      "encoding": {"x2": {"field": "e2"}}
    },
    {
      "data": {"name": "notes"},
      "transform": [{"filter": "datum.r == 'main'"}],
      "mark": {"type": "text", "align": "left", "baseline": "alphabetic", "fontSize": 32, "font": "Liberation Sans", "color": "#231f20"},
      "encoding": {"text": {"field": "t"}}
    },
    {
      "data": {"name": "notes"},
      "transform": [{"filter": "datum.r == 'sub'"}],
      "mark": {"type": "text", "align": "left", "baseline": "alphabetic", "fontSize": 21, "font": "Liberation Sans", "color": "#231f20"},
      "encoding": {"text": {"field": "t"}}
    },
    {
      "data": {"name": "notes"},
      "transform": [{"filter": "datum.r == 'title'"}],
      "mark": {"type": "text", "align": "left", "baseline": "alphabetic", "fontSize": 34, "font": "Liberation Sans", "color": "#231f20"},
      "encoding": {"text": {"field": "t"}}
    },
    {
      "data": {"name": "notes"},
      "transform": [{"filter": "datum.r == 'titlesub'"}],
      "mark": {"type": "text", "align": "left", "baseline": "alphabetic", "fontSize": 28, "font": "Liberation Sans", "color": "#231f20"},
      "encoding": {"text": {"field": "t"}}
    }
  ]
}
